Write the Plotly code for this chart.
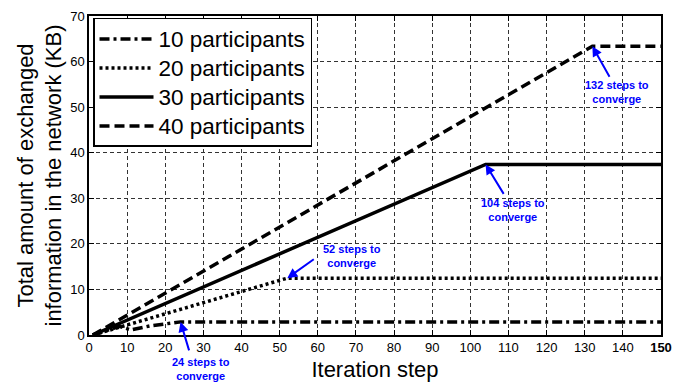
import plotly.graph_objects as go

# Cumulative exchanged information (KB) per iteration step
steps_10 = [1, 5, 8, 11, 16, 24, 150]
kb_10 = [0, 1.2, 1.9, 1.1, 2.0, 2.88, 2.88]

steps_20 = [1, 52, 150]
kb_20 = [0, 12.48, 12.48]

steps_30 = [1, 104, 150]
kb_30 = [0, 37.44, 37.44]

steps_40 = [1, 132, 150]
kb_40 = [0, 63.36, 63.36]

series_names = ["10 participants", "20 participants", "30 participants", "40 participants"]

x_ticks = list(range(0, 151, 10))
x_ticktext = [str(v) for v in x_ticks[:-1]] + ["<b>150</b>"]
y_ticks = list(range(0, 71, 10))

# Convergence notes: (step, KB, tail dx px, tail dy px, label, label x, label y as plot fraction)
notes = [
    (24, 2.88, 9, 30, "24 steps to<br>converge", 29.4, -0.107),
    (52, 12.48, 28, -20, "52 steps to<br>converge", 69.0, 17.4 / 70),
    (104, 37.44, 19, 31, "104 steps to<br>converge", 111.2, 27.5 / 70),
    (132, 63.36, 18, 32, "132 steps to<br>converge", 138.5, 53.3 / 70),
]

FONT = "Liberation Sans, Arial, sans-serif"


def legend_label(name):
    # slightly larger glyphs than the legend row height is based on
    return '<span style="font-size:22.5px">' + name + "</span>"


fig = go.Figure()
fig.add_trace(go.Scatter(x=steps_10, y=kb_10, mode="lines", name=legend_label(series_names[0]),
                         line=dict(color="black", width=3.5, dash="10px,4px,3px,4px")))
fig.add_trace(go.Scatter(x=steps_20, y=kb_20, mode="lines", name=legend_label(series_names[1]),
                         line=dict(color="black", width=3.5, dash="3px,3px")))
fig.add_trace(go.Scatter(x=steps_30, y=kb_30, mode="lines", name=legend_label(series_names[2]),
                         line=dict(color="black", width=3.5)))
fig.add_trace(go.Scatter(x=steps_40, y=kb_40, mode="lines", name=legend_label(series_names[3]),
                         line=dict(color="black", width=3.5, dash="10px,5px")))

blue = "#0000FF"
for sx, sy, dx, dy, label, lx, ly in notes:
    fig.add_annotation(x=sx, y=sy, ax=dx, ay=dy, text="", showarrow=True,
                       arrowhead=2, arrowsize=1, arrowwidth=2, arrowcolor=blue)
    bold = "<br>".join("<b>" + part + "</b>" for part in label.split("<br>"))
    # vertical placement relative to the plot area so labels below the axis stay visible
    fig.add_annotation(x=lx, y=ly, xref="x", yref="paper", text=bold, showarrow=False,
                       font=dict(family=FONT, size=11, color=blue),
                       xanchor="center", yanchor="middle")

axis_common = dict(
    showline=True, linecolor="black", linewidth=1.5, mirror="ticks",
    ticks="inside", ticklen=5, tickcolor="black", tickwidth=1,
    showgrid=True, gridcolor="#333333", gridwidth=0.8, griddash="4px,3px",
    zeroline=False, automargin=False,
    tickfont=dict(family=FONT, size=13, color="black"),
)

fig.update_xaxes(range=[0, 150], tickvals=x_ticks, ticktext=x_ticktext,
                 title=dict(text="Iteration step",
                            font=dict(family=FONT, size=22, color="black")),
                 **axis_common)
fig.update_yaxes(range=[0, 70], tickvals=y_ticks,
                 title=dict(text="Total amount of exchanged<br>information in the network (KB)",
                            standoff=2,
                            font=dict(family=FONT, size=22, color="black")),
                 **axis_common)

fig.update_layout(
    width=673, height=382,
    margin=dict(l=89, r=12, t=16, b=47),
    plot_bgcolor="white", paper_bgcolor="white",
    showlegend=True,
    legend=dict(x=0.007, y=0.994, xanchor="left", yanchor="top",
                bgcolor="white", bordercolor="black", borderwidth=1.5,
                font=dict(family=FONT, size=20, color="black"),
                tracegroupgap=0, itemwidth=54),
)

fig.write_html("out.html")
